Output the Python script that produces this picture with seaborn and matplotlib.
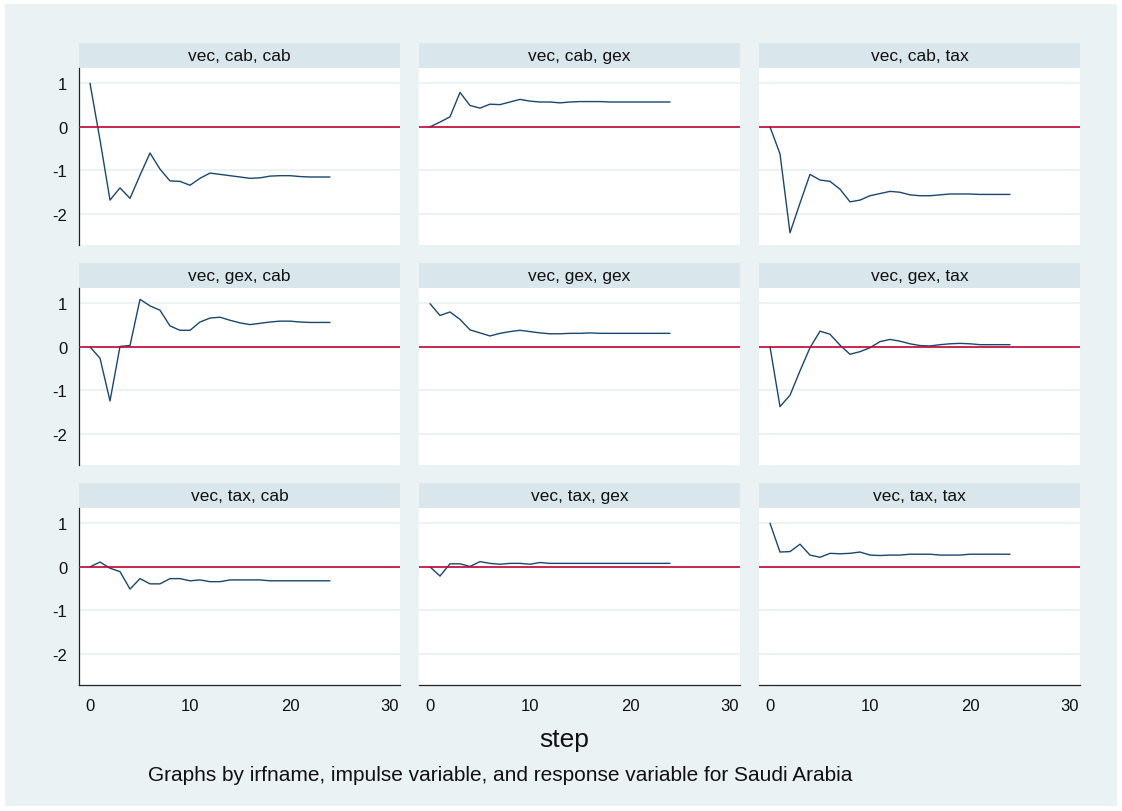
import matplotlib
matplotlib.use("Agg")
import matplotlib.pyplot as plt
from matplotlib.patches import Rectangle
import numpy as np
import pandas as pd
import seaborn as sns

# Impulse-response functions (irfname "vec"), steps 0..24
steps = list(range(25))
variables = ["cab", "gex", "tax"]

cab_cab = [1.00, -0.30, -1.68, -1.40, -1.64, -1.11, -0.60, -0.97, -1.24, -1.25,
           -1.34, -1.18, -1.06, -1.09, -1.12, -1.15, -1.18, -1.17, -1.13, -1.12,
           -1.12, -1.14, -1.15, -1.15, -1.15]
cab_gex = [0.00, 0.11, 0.23, 0.79, 0.49, 0.43, 0.52, 0.51, 0.57, 0.63,
           0.59, 0.57, 0.57, 0.55, 0.57, 0.58, 0.58, 0.58, 0.57, 0.57,
           0.57, 0.57, 0.57, 0.57, 0.57]
cab_tax = [0.00, -0.62, -2.43, -1.75, -1.09, -1.22, -1.25, -1.43, -1.72, -1.68,
           -1.58, -1.53, -1.48, -1.50, -1.56, -1.58, -1.58, -1.56, -1.54, -1.54,
           -1.54, -1.55, -1.55, -1.55, -1.55]
gex_cab = [0.00, -0.26, -1.24, 0.01, 0.03, 1.09, 0.94, 0.84, 0.48, 0.38,
           0.38, 0.57, 0.66, 0.68, 0.61, 0.55, 0.51, 0.54, 0.57, 0.59,
           0.59, 0.57, 0.56, 0.56, 0.56]
gex_gex = [0.99, 0.72, 0.80, 0.63, 0.39, 0.32, 0.25, 0.31, 0.35, 0.38,
           0.35, 0.32, 0.30, 0.30, 0.31, 0.31, 0.32, 0.31, 0.31, 0.31,
           0.31, 0.31, 0.31, 0.31, 0.31]
gex_tax = [0.00, -1.37, -1.11, -0.55, -0.02, 0.36, 0.29, 0.04, -0.17, -0.11,
           -0.02, 0.12, 0.17, 0.13, 0.07, 0.03, 0.02, 0.05, 0.07, 0.08,
           0.07, 0.05, 0.05, 0.05, 0.05]
tax_cab = [0.00, 0.11, -0.03, -0.11, -0.51, -0.27, -0.39, -0.39, -0.27, -0.27,
           -0.32, -0.30, -0.34, -0.34, -0.30, -0.30, -0.30, -0.30, -0.32, -0.32,
           -0.32, -0.32, -0.32, -0.32, -0.32]
tax_gex = [0.00, -0.21, 0.07, 0.07, 0.01, 0.12, 0.08, 0.06, 0.08, 0.08,
           0.06, 0.10, 0.08, 0.08, 0.08, 0.08, 0.08, 0.08, 0.08, 0.08,
           0.08, 0.08, 0.08, 0.08, 0.08]
tax_tax = [1.00, 0.34, 0.35, 0.52, 0.27, 0.22, 0.31, 0.30, 0.31, 0.34,
           0.27, 0.26, 0.27, 0.27, 0.29, 0.29, 0.29, 0.27, 0.27, 0.27,
           0.29, 0.29, 0.29, 0.29, 0.29]

y_ticks = [-2, -1, 0, 1]
x_ticks = [0, 10, 20, 30]

series = {
    ("cab", "cab"): cab_cab, ("cab", "gex"): cab_gex, ("cab", "tax"): cab_tax,
    ("gex", "cab"): gex_cab, ("gex", "gex"): gex_gex, ("gex", "tax"): gex_tax,
    ("tax", "cab"): tax_cab, ("tax", "gex"): tax_gex, ("tax", "tax"): tax_tax,
}

rows = []
for (imp, resp), vals in series.items():
    for s, v in zip(steps, vals):
        rows.append({"impulse": imp, "response": resp, "step": s, "irf": v})
df = pd.DataFrame(rows)

BG = "#EAF2F3"
STRIP = "#D9E6EB"
NAVY = "#1A476F"
RED = "#C10534"
INK = "#111111"

sns.set_theme(style="white")
plt.rcParams["font.family"] = ["Liberation Sans", "DejaVu Sans"]

g = sns.relplot(data=df, x="step", y="irf", row="impulse", col="response",
                row_order=variables, col_order=variables, kind="line",
                color=NAVY, linewidth=1.0, height=2.5, aspect=1.3,
                facet_kws=dict(sharex=True, sharey=True))
fig = g.figure
fig.set_size_inches(11.22, 8.12)
fig.set_dpi(100)
fig.patch.set_facecolor("white")

W, H = 1122.0, 812.0
# shaded graph region inset from a thin white outer margin
fig.patches.append(Rectangle((5 / W, 5 / H), 1 - 10 / W, 1 - 10 / H,
                             transform=fig.transFigure, facecolor=BG,
                             edgecolor="none", zorder=-10))

fig.subplots_adjust(left=79 / W, right=1080 / W, top=1 - 69 / H,
                    bottom=1 - 686 / H, wspace=19 / 321, hspace=43 / 177)

g.set_titles("")
g.set_axis_labels("", "")

ax_h = 177.0
for i, imp in enumerate(variables):
    for j, resp in enumerate(variables):
        ax = g.axes[i, j]
        ax.set_facecolor("white")
        ax.set_xlim(-1.1, 31)
        ax.set_ylim(-2.71, 1.35)
        ax.set_yticks(y_ticks)
        ax.set_xticks(x_ticks)
        ax.grid(axis="y", color=BG, linewidth=1.3, zorder=0)
        ax.grid(axis="x", visible=False)
        ax.axhline(0, color=RED, linewidth=1.2, zorder=3)
        for side in ["top", "right", "left", "bottom"]:
            ax.spines[side].set_visible(False)
        ax.tick_params(axis="both", which="both", length=0, labelleft=False,
                       labelbottom=False)
        if j == 0:
            ax.spines["left"].set_visible(True)
            ax.spines["left"].set_color("#222222")
            ax.spines["left"].set_linewidth(0.9)
            ax.tick_params(axis="y", length=4.5, width=0.8, color="#222222",
                           labelleft=True, labelsize=12, pad=4,
                           labelcolor=INK)
            ax.set_yticklabels([str(t) for t in y_ticks])
        if i == 2:
            ax.spines["bottom"].set_visible(True)
            ax.spines["bottom"].set_color("#222222")
            ax.spines["bottom"].set_linewidth(0.9)
            ax.tick_params(axis="x", length=4.5, width=0.8, color="#222222",
                           labelbottom=True, labelsize=12, pad=5,
                           labelcolor=INK)
        # facet strip with the panel label
        strip_h = 25 / ax_h
        ax.add_patch(Rectangle((0, 1), 1, strip_h, transform=ax.transAxes,
                               facecolor=STRIP, edgecolor="none",
                               clip_on=False, zorder=1))
        ax.text(0.5, 1 + strip_h / 2, f"vec, {imp}, {resp}",
                transform=ax.transAxes, ha="center", va="center",
                fontsize=12.5, color=INK)
        for line in ax.lines:
            line.set_zorder(4)

fig.text(564 / W, 1 - 740 / H, "step", ha="center", va="center",
         fontsize=19, color=INK)
fig.text(148 / W, 1 - 776 / H,
         "Graphs by irfname, impulse variable, and response variable for Saudi Arabia",
         ha="left", va="center", fontsize=15, color=INK)

fig.savefig("out.png", dpi=100, facecolor="white")
